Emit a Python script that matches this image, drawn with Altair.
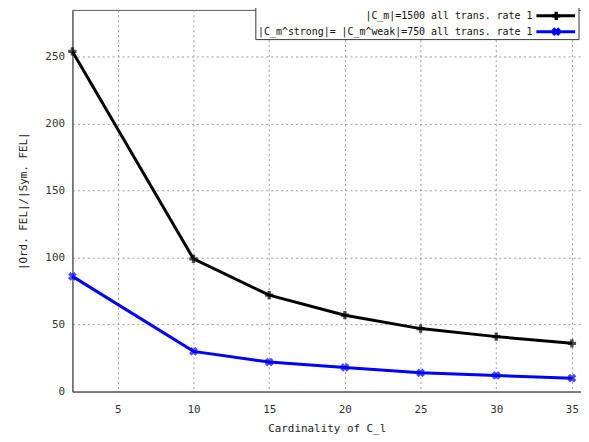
import altair as alt
import pandas as pd

x_vals = [2, 10, 15, 20, 25, 30, 35]
series1 = [254, 99, 72, 57, 47, 41, 36]
series2 = [86, 30, 22, 18, 14, 12, 10]
labels = ["|C_m|=1500  all trans. rate 1",
          "|C_m^strong|=  |C_m^weak|=750 all trans. rate 1"]
colors = ["#000000", "#0000ff"]

FONT = "DejaVu Sans Mono"

rows = []
for s, vals in zip(labels, [series1, series2]):
    for x, y in zip(x_vals, vals):
        rows.append({"x": x, "y": y, "s": s})
df = pd.DataFrame(rows)

xs = alt.Scale(domain=[2, 35.6], nice=False, zero=False)
ys = alt.Scale(domain=[0, 285], nice=False)
cs = alt.Scale(domain=labels, range=colors)

xaxis = alt.Axis(values=[5, 10, 15, 20, 25, 30, 35], title="Cardinality of C_l",
                 grid=True, gridDash=[2, 3], gridColor="#999999", ticks=False,
                 labelFont=FONT, labelFontSize=11, labelColor="#333",
                 titleFont=FONT, titleFontSize=11, titleFontWeight="normal",
                 titleColor="#222", labelPadding=12, titlePadding=8,
                 domainColor="#555")
yaxis = alt.Axis(values=[0, 50, 100, 150, 200, 250], title="|Ord. FEL|/|Sym. FEL|",
                 grid=True, gridDash=[2, 3], gridColor="#999999", ticks=False,
                 labelFont=FONT, labelFontSize=11, labelColor="#333",
                 titleFont=FONT, titleFontSize=11, titleFontWeight="normal",
                 titleColor="#222", labelPadding=8, titlePadding=16,
                 domainColor="#555")

base = alt.Chart(df)
lines = base.mark_line(strokeWidth=3).encode(
    x=alt.X("x:Q", scale=xs, axis=xaxis),
    y=alt.Y("y:Q", scale=ys, axis=yaxis),
    color=alt.Color("s:N", scale=cs, legend=None),
    detail="s:N",
)
pts1 = alt.Chart(df[df.s == labels[0]]).mark_point(
    shape="cross", filled=True, size=70, color="#000000").encode(
    x=alt.X("x:Q", scale=xs), y=alt.Y("y:Q", scale=ys))
pts2 = alt.Chart(df[df.s == labels[1]]).mark_point(
    shape="cross", angle=45, filled=True, size=80, color="#0000ff").encode(
    x=alt.X("x:Q", scale=xs), y=alt.Y("y:Q", scale=ys))

# legend (drawn inside the plot, top-right)
one = pd.DataFrame({"a": [0]})
box = alt.Chart(one).mark_rect(
    fill="white", stroke="#333", strokeWidth=1).encode(
    x=alt.value(185), x2=alt.value(511), y=alt.value(-3), y2=alt.value(30))
legend_layers = [box]
row_y = [6, 22]
for lab, col, ry, ang, sz in zip(labels, colors, row_y, [0, 45], [70, 80]):
    legend_layers.append(alt.Chart(one).mark_text(
        align="right", baseline="middle", font=FONT, fontSize=10, color="#111",
        text=lab).encode(x=alt.value(464), y=alt.value(ry)))
    legend_layers.append(alt.Chart(one).mark_rule(strokeWidth=3, color=col).encode(
        x=alt.value(468), x2=alt.value(507), y=alt.value(ry)))
    legend_layers.append(alt.Chart(one).mark_point(
        shape="cross", angle=ang, filled=True, size=sz, color=col, opacity=1).encode(
        x=alt.value(488), y=alt.value(ry)))

chart = alt.layer(lines, pts1, pts2, *legend_layers).properties(
    width=513, height=385,
    autosize=alt.AutoSizeParams(type="none"),
    padding={"left": 65, "top": 0, "right": 0, "bottom": 48},
    background="white",
).configure_view(stroke="#555", strokeWidth=1)

chart.save("out.html", embed_options={"renderer": "svg", "actions": False})
